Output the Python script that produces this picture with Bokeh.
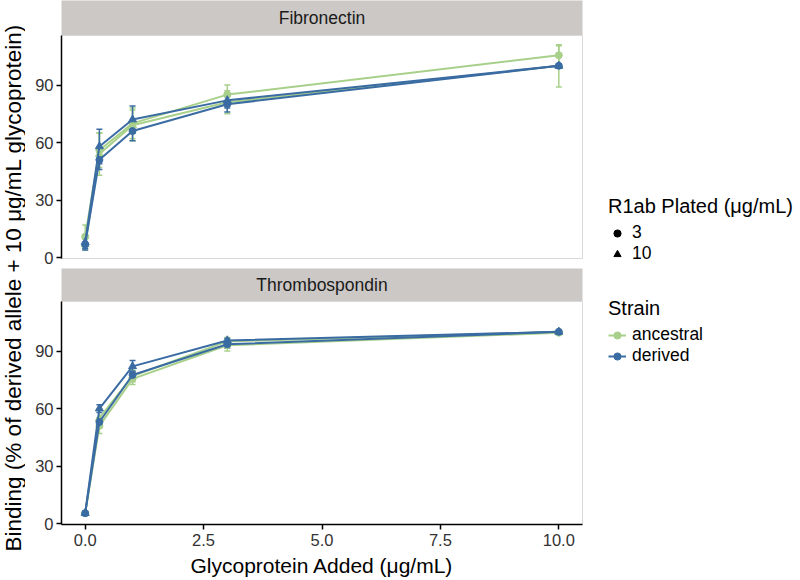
from math import pi
from bokeh.plotting import figure
from bokeh.layouts import row, column
from bokeh.models import (Range1d, FixedTicker, NumeralTickFormatter, Whisker, TeeHead,
                          ColumnDataSource, Legend, LegendItem, Label)
from bokeh.embed import file_html
from bokeh.resources import INLINE

# ---------------- data ----------------
glyco = [0, 0.3, 1, 3, 10]
panels = ["Fibronectin", "Thrombospondin"]
strains = ["ancestral", "derived"]
plated = ["3", "10"]
x_ticks = [0, 2.5, 5, 7.5, 10]
y_ticks = [0, 30, 60, 90]

# Fibronectin
fib_anc_3 = [11, 56, 70, 85, 105.5]
fib_anc_3_err = [6, 9, 8, 5, 5]
fib_anc_10 = [7, 54, 69, 81, 100]
fib_anc_10_err = [3, 11, 8, 6, 11]
fib_der_3 = [7, 51, 66, 80, 100]
fib_der_3_err = [3, 5, 5, 4, 1]
fib_der_10 = [8, 58, 72, 82, 100]
fib_der_10_err = [3, 9, 7, 4, 0]

# Thrombospondin
thr_anc_3 = [5.5, 51, 75.5, 93, 99.5]
thr_anc_3_err = [0.5, 4, 3, 3, 0.5]
thr_anc_10 = [5.5, 55, 77, 95, 100]
thr_anc_10_err = [0.5, 5, 3, 2, 1]
thr_der_3 = [5.5, 53, 77.5, 93.5, 100]
thr_der_3_err = [0.5, 2, 2, 2, 0.5]
thr_der_10 = [5.5, 60, 82, 95.5, 100]
thr_der_10_err = [0.5, 2, 3, 1, 0]

# ---------------- style ----------------
FONT = "Liberation Sans"
GREEN = "#a8d08a"
BLUE = "#3a6ca3"
STRIP = "#ccc8c5"
colors = {"ancestral": GREEN, "derived": BLUE}
markers = {"3": "circle", "10": "triangle"}
msize = {"3": 7, "10": 8}

TOTAL_W, TOTAL_H = 800, 580
LEFT_W = 25
BL, BR = 36, 4
FRAME_W = 521
PANEL_W = BL + FRAME_W + BR
LEG_W = TOTAL_W - LEFT_W - PANEL_W
FRAME_H = 223
STRIP1_H, STRIP2_H = 35, 33
GAP = 10
BOTTOM = 56

xr = Range1d(-0.5, 10.5)
yr = Range1d(-0.4, 115.8)

series = {
    "Fibronectin": [("ancestral", "3", fib_anc_3, fib_anc_3_err),
                    ("ancestral", "10", fib_anc_10, fib_anc_10_err),
                    ("derived", "3", fib_der_3, fib_der_3_err),
                    ("derived", "10", fib_der_10, fib_der_10_err)],
    "Thrombospondin": [("ancestral", "3", thr_anc_3, thr_anc_3_err),
                       ("ancestral", "10", thr_anc_10, thr_anc_10_err),
                       ("derived", "3", thr_der_3, thr_der_3_err),
                       ("derived", "10", thr_der_10, thr_der_10_err)],
}


def strip_fig(name, h):
    s = figure(width=PANEL_W, height=h, x_range=xr, y_range=Range1d(0, 1),
               min_border_left=BL, min_border_right=BR, min_border_top=0, min_border_bottom=0,
               x_axis_location=None, y_axis_location=None, toolbar_location=None,
               output_backend="svg", background_fill_color=STRIP, outline_line_color=None)
    s.grid.visible = False
    s.add_layout(Label(x=5, y=0.5, text=name, text_align="center", text_baseline="middle",
                       text_font=FONT, text_font_size="17.5px", text_color="#1a1a1a"))
    return s


def panel_fig(name, bottom):
    bb = BOTTOM if bottom else GAP
    p = figure(width=PANEL_W, height=FRAME_H + bb, x_range=xr, y_range=yr,
               min_border_left=BL, min_border_right=BR, min_border_top=0,
               min_border_bottom=bb,
               x_axis_location=("below" if bottom else None),
               toolbar_location=None, output_backend="svg",
               background_fill_color="white", outline_line_color="#d9d9d9",
               outline_line_width=1)
    p.grid.visible = False
    for ax in p.axis:
        ax.axis_line_color = "black"
        ax.axis_line_width = 1.5
        ax.major_tick_line_color = "black"
        ax.major_tick_line_width = 1.5
        ax.major_tick_out = 5
        ax.major_tick_in = 0
        ax.minor_tick_line_color = None
        ax.major_label_text_font = FONT
        ax.major_label_text_font_size = "16.5px"
        ax.major_label_text_color = "#333333"
        ax.major_label_standoff = 3
    p.yaxis.ticker = FixedTicker(ticks=y_ticks)
    if bottom:
        p.xaxis.ticker = FixedTicker(ticks=x_ticks)
        p.xaxis.formatter = NumeralTickFormatter(format="0.0")
        p.xaxis.major_label_standoff = 4
        p.xaxis.axis_label = "Glycoprotein Added (\u03bcg/mL)"
        p.xaxis.axis_label_text_font = FONT
        p.xaxis.axis_label_text_font_size = "21px"
        p.xaxis.axis_label_text_font_style = "normal"
        p.xaxis.axis_label_text_color = "black"
        p.xaxis.axis_label_standoff = 5

    for strain, pl, vals, errs in series[name]:
        c = colors[strain]
        src = ColumnDataSource(dict(
            x=glyco, y=vals,
            upper=[v + e for v, e in zip(vals, errs)],
            lower=[v - e for v, e in zip(vals, errs)]))
        p.add_layout(Whisker(source=src, base="x", upper="upper", lower="lower",
                             line_color=c, line_width=1.5,
                             upper_head=TeeHead(size=6, line_color=c, line_width=1.5),
                             lower_head=TeeHead(size=6, line_color=c, line_width=1.5)))
        p.line("x", "y", source=src, line_color=c, line_width=2)
        p.scatter("x", "y", source=src, marker=markers[pl], size=msize[pl],
                  fill_color=c, line_color=c)
    return p


# y label figure
yl = figure(width=LEFT_W, height=TOTAL_H, x_range=Range1d(0, 1), y_range=Range1d(0, 1),
            min_border=0, x_axis_location=None, y_axis_location=None,
            toolbar_location=None, output_backend="svg", outline_line_color=None)
yl.grid.visible = False
yl.add_layout(Label(x=12.5, y=296, x_units="screen", y_units="screen",
                    text="Binding (% of derived allele + 10  \u03bcg/mL glycoprotein)",
                    angle=pi / 2, text_align="center", text_baseline="middle",
                    text_font=FONT, text_font_size="22.5px", text_color="black"))

# legend figure (legend proxies only; they draw nothing in the plot area)
lf = figure(width=LEG_W, height=TOTAL_H, x_range=Range1d(0, 1), y_range=Range1d(0, 1),
            min_border=0, x_axis_location=None, y_axis_location=None,
            toolbar_location=None, output_backend="svg", outline_line_color=None)
lf.grid.visible = False

nan = float("nan")
shape_items = []
for pl in plated:
    r = lf.scatter(x=[nan], y=[nan], marker=markers[pl], size=6,
                   fill_color="black", line_color="black")
    shape_items.append(LegendItem(label=pl, renderers=[r]))
strain_items = []
for st in strains:
    rl = lf.line(x=[nan], y=[nan], line_color=colors[st], line_width=2)
    rs = lf.scatter(x=[nan], y=[nan], marker="circle", size=6,
                    fill_color=colors[st], line_color=colors[st])
    strain_items.append(LegendItem(label=st, renderers=[rl, rs]))


def make_legend(items, title, loc):
    return Legend(items=items, title=title, location=loc,
                  title_text_font=FONT, title_text_font_size="20px",
                  title_text_font_style="normal", title_text_color="black",
                  title_standoff=4,
                  label_text_font=FONT, label_text_font_size="17.5px", label_text_color="black",
                  glyph_width=18, glyph_height=20, label_height=20, label_standoff=6,
                  spacing=0, padding=0, margin=0, border_line_color=None,
                  background_fill_alpha=0)


lf.add_layout(make_legend(shape_items, "R1ab Plated (\u03bcg/mL)", (22, 316)))
lf.add_layout(make_legend(strain_items, "Strain", (22, 214)))

layout = row(yl,
             column(strip_fig(panels[0], STRIP1_H), panel_fig(panels[0], False),
                    strip_fig(panels[1], STRIP2_H), panel_fig(panels[1], True)),
             lf)

open("out.html", "w").write(file_html(layout, INLINE))
